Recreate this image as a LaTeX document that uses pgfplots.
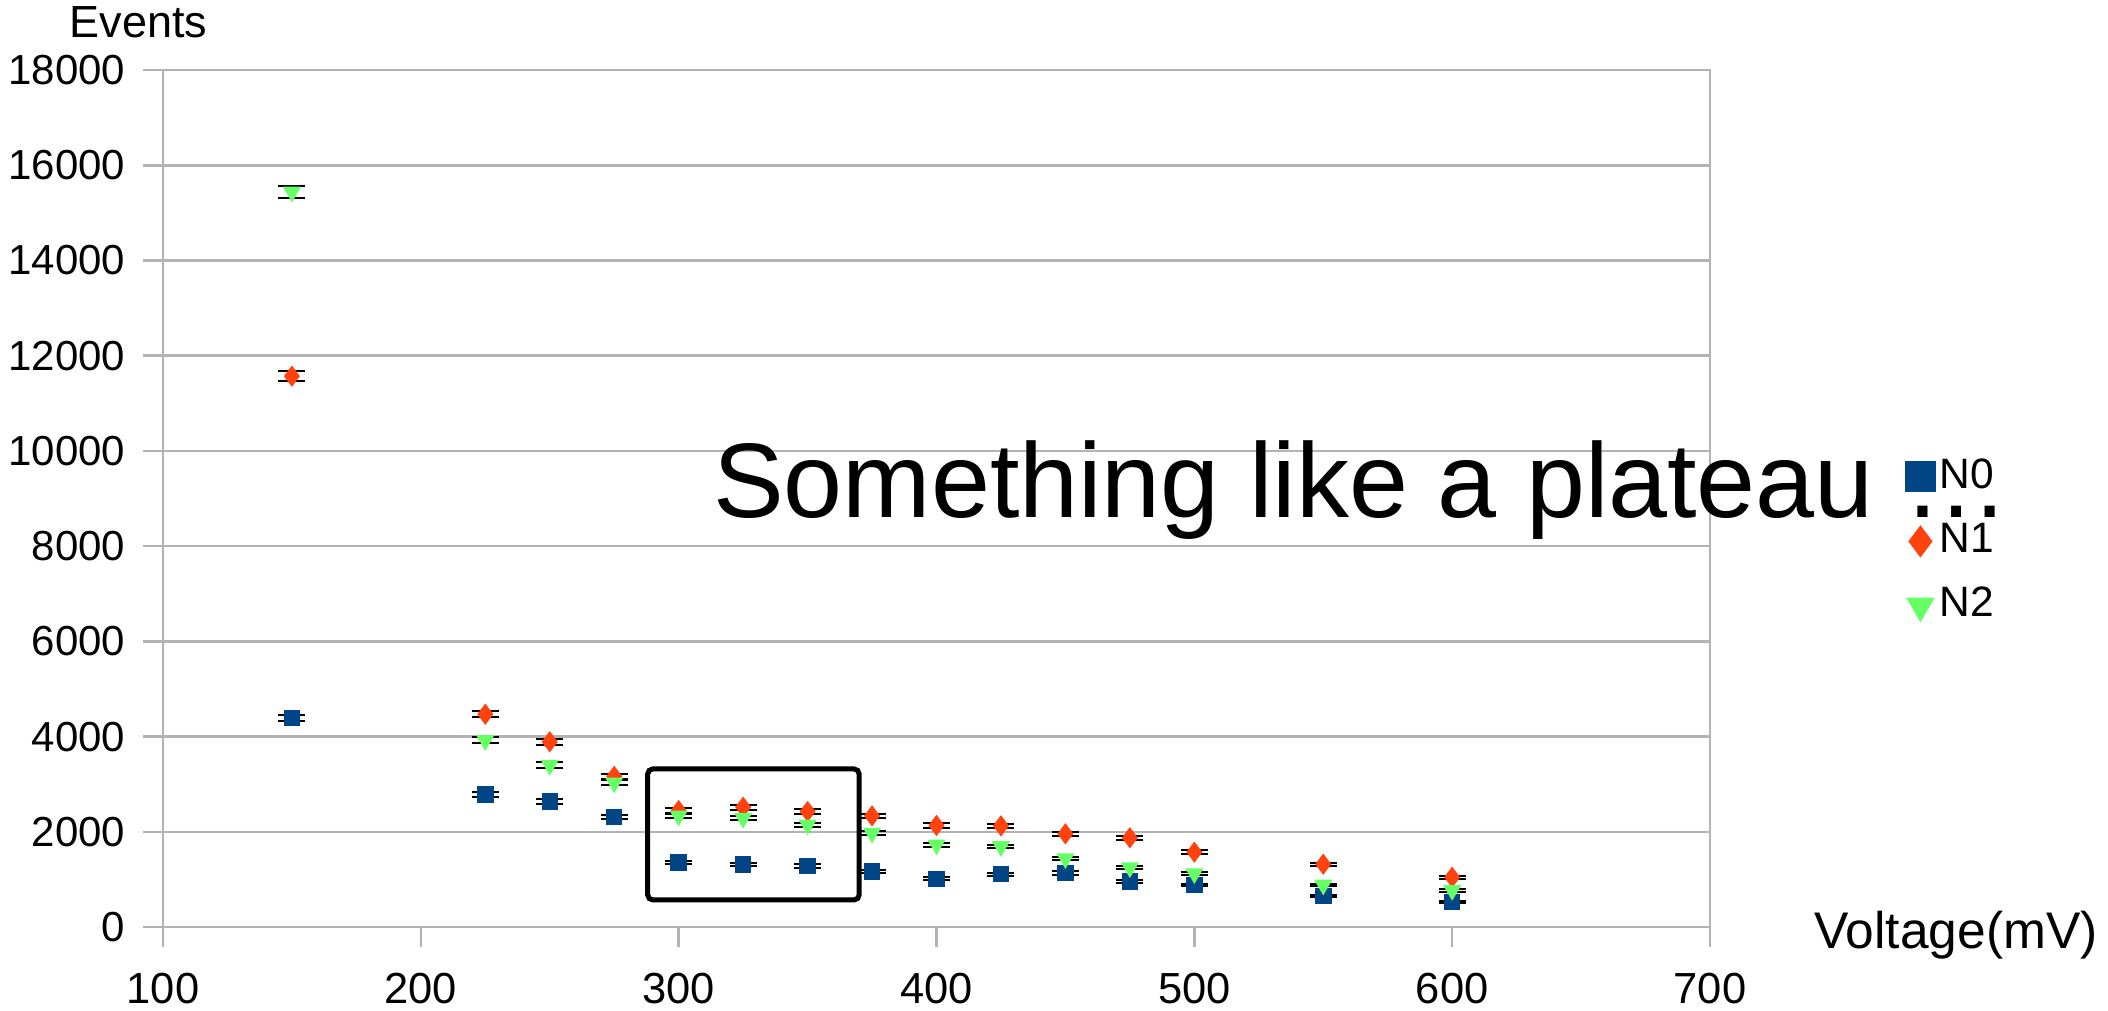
\documentclass[border=0pt]{standalone}
\usepackage{fontspec}
\setmainfont{Liberation Sans}
\usepackage{pgfplots}
\pgfplotsset{compat=1.18}
\definecolor{cN0}{HTML}{004586}
\definecolor{cN1}{HTML}{FF420E}
\definecolor{cN2}{HTML}{66FF66}
\definecolor{gridgray}{HTML}{B3B3B3}
\begin{document}
\begin{tikzpicture}
\useasboundingbox (0,0) rectangle (421.6pt,202pt);
\begin{axis}[
  at={(32.6pt,16.6pt)}, anchor=south west,
  scale only axis, width=309.4pt, height=171.4pt,
  xmin=100, xmax=700, ymin=0, ymax=18000,
  xtick={100,200,...,700}, ytick={0,2000,...,18000},
  ymajorgrids, grid style={gridgray, line width=0.5pt},
  axis line style={gridgray, line width=0.5pt},
  tick style={gridgray, line width=0.5pt},
  tick align=outside, major tick length=4pt, tick pos=left,
  scaled ticks=false,
  /pgf/number format/1000 sep={},
  /pgf/number format/assume math mode=true,
  yticklabel style={font=\fontsize{8.4}{9}\selectfont},
  xticklabel style={font=\fontsize{8.7}{9}\selectfont, yshift=-1.6pt},
  legend style={at={(rel axis cs:1.126,0.45)}, anchor=west, draw=none, fill=none,
    inner sep=0pt, row sep=3.5pt, font=\fontsize{8.5}{10}\selectfont,
    nodes={inner sep=1pt}},
  legend cell align=left,
  legend image code/.code={\draw[mark repeat=2,mark phase=2,#1] plot coordinates {(0cm,0cm)(0.15cm,0cm)(0.37cm,0cm)};},
  legend image post style={mark size=2.9pt},
  clip=false,
]
\addplot[only marks, mark=square*, color=cN0, mark size=1.45pt,
  error bars/.cd, y dir=both, y explicit, error mark=|,
  error mark options={black, mark size=2.7pt, line width=0.4pt},
  error bar style={black, line width=0.4pt}]
  table[x=x, y=y, y error=e] {
x y e
150 4390 66
225 2780 53
250 2640 51
275 2310 48
300 1355 37
325 1312 36
350 1278 36
375 1165 34
400 1012 32
425 1110 33
450 1137 34
475 954 31
500 884 30
550 653 26
600 526 23
};
\addlegendentry{N0}
\addplot[only marks, mark=diamond*, color=cN1, mark size=1.8pt,
  error bars/.cd, y dir=both, y explicit, error mark=|,
  error mark options={black, mark size=2.7pt, line width=0.4pt},
  error bar style={black, line width=0.4pt}]
  table[x=x, y=y, y error=e] {
x y e
150 11570 108
225 4470 67
250 3890 62
275 3165 56
300 2448 49
325 2517 50
350 2427 49
375 2336 48
400 2133 46
425 2126 46
450 1958 44
475 1874 43
500 1572 40
550 1319 36
600 1046 32
};
\addlegendentry{N1}
\addplot[only marks, mark=triangle*, mark options={rotate=180}, color=cN2, mark size=1.7pt,
  error bars/.cd, y dir=both, y explicit, error mark=|,
  error mark options={black, mark size=2.7pt, line width=0.4pt},
  error bar style={black, line width=0.4pt}]
  table[x=x, y=y, y error=e] {
x y e
150 15440 124
225 3920 63
250 3400 58
275 3030 55
300 2336 48
325 2287 48
350 2147 46
375 1972 44
400 1727 42
425 1692 41
450 1439 38
475 1249 35
500 1123 34
550 884 30
600 772 28
};
\addlegendentry{N2}
\draw[black, line width=1pt, rounded corners=1pt] (axis cs:288,570) rectangle (axis cs:370,3320);
\node[anchor=base west, inner sep=0pt, font=\fontsize{21.2}{24}\selectfont] at (rel axis cs:0.355,0.478) {Something like a plateau …};
\node[anchor=base, inner sep=0pt, font=\fontsize{9}{10}\selectfont] at (rel axis cs:-0.0158,1.0385) {Events};
\node[anchor=base, inner sep=0pt, font=\fontsize{10.3}{12}\selectfont] at (rel axis cs:1.159,-0.0245) {Voltage(mV)};
\end{axis}
\end{tikzpicture}
\end{document}
